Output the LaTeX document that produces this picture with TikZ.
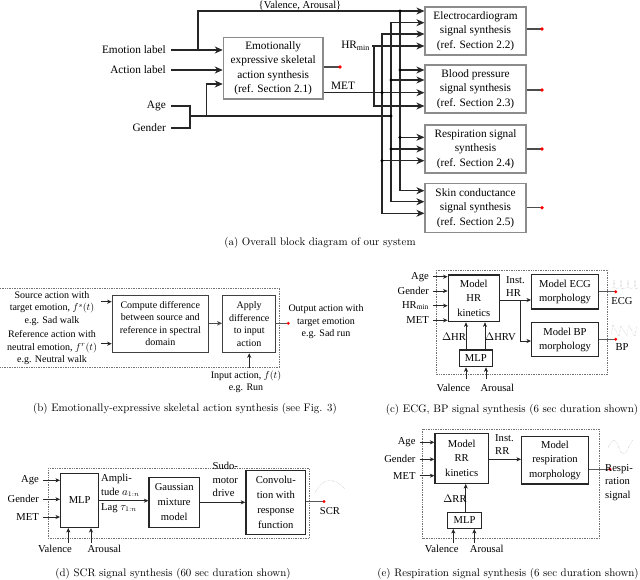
\documentclass[tikz,border=0pt]{standalone}
\usepackage{fontspec}
\newfontfamily\df{Liberation Serif}
\usetikzlibrary{arrows.meta,calc}
\begin{document}
\begin{tikzpicture}[x=1pt,y=-1pt,
  abox/.style={draw=black!45, line width=1.2pt, align=center, inner sep=1pt, font=\df\fontsize{11.3}{14.3}\selectfont},
  alab/.style={align=center, inner sep=1pt, font=\df\fontsize{11.3}{14.3}\selectfont},
  aline/.style={line width=1.1pt, black!85},
  aarr/.style={aline, -{Stealth[length=8pt,width=7pt,inset=2.5pt]}},
  bbox/.style={draw=black!75, line width=1.1pt, align=center, inner sep=1pt, font=\df\fontsize{10}{12.5}\selectfont},
  blab/.style={align=center, inner sep=1pt, font=\df\fontsize{10}{12.5}\selectfont},
  sbox/.style={draw=black!85, line width=1.3pt, align=center, inner sep=1pt, font=\df\fontsize{10.6}{14.2}\selectfont},
  slab/.style={align=center, inner sep=1pt, font=\df\fontsize{10.6}{13.5}\selectfont},
  sline/.style={line width=0.8pt, black!85},
  sarr/.style={sline, -{Stealth[length=4.5pt,width=4pt,inset=1.2pt]}},
  outl/.style={line width=1.2pt, black!65},
  dotbox/.style={densely dotted, black!55, line width=0.7pt},
  wave/.style={black!40, line width=0.35pt, densely dotted},
  captxt/.style={inner sep=0pt, font=\fontsize{10.9}{12}\selectfont},
  jdot/.style={fill=black},
  rdot/.style={fill=red}
]
\path[use as bounding box] (0,0) rectangle (640,579);

% ================= (a) =================
\node[abox, minimum width=99.7pt, minimum height=61.7pt] (emo) at (273.2,68.2) {Emotionally\\expressive skeletal\\action synthesis\\(ref. Section 2.1)};
\node[abox, minimum width=101pt, minimum height=48pt] (ecg) at (475.5,31) {Electrocardiogram\\signal synthesis\\(ref. Section 2.2)};
\node[abox, minimum width=101pt, minimum height=48pt] (bp) at (475.5,89) {Blood pressure\\signal synthesis\\(ref. Section 2.3)};
\node[abox, minimum width=101pt, minimum height=48pt] (resp) at (475.5,149) {Respiration signal\\synthesis\\(ref. Section 2.4)};
\node[abox, minimum width=101pt, minimum height=49pt] (skin) at (475.5,208) {Skin conductance\\signal synthesis\\(ref. Section 2.5)};

\node[alab, anchor=east] (emolab) at (167,50) {Emotion label};
\node[alab, anchor=east] (actlab) at (167,70) {Action label};
\node[alab, anchor=east] (agelab) at (167,106) {Age};
\node[alab, anchor=east] (genlab) at (167,128) {Gender};
\node[alab, anchor=base, font=\df\fontsize{10.6}{13}\selectfont] (valab) at (300,8.3) {\{Valence, Arousal\}};
\node[alab] (metlab) at (343,86) {MET};
\node[alab, anchor=east] (hrlab) at (371,46) {HR\textsubscript{min}};

\coordinate (jE) at (198,50);
\coordinate (jB) at (190,116);
\coordinate (jAG) at (206.7,116);
\coordinate (v1) at (400,11);
\coordinate (v2) at (400,70);
\coordinate (v3) at (400,137.3);
\coordinate (g1) at (391,116);
\coordinate (g2) at (391,80);
\coordinate (g3) at (391,149);
\coordinate (m1) at (382,92.7);
\coordinate (m2) at (382,160.7);
\coordinate (h1) at (374,46.7);

\draw[aarr] ([xshift=4pt]emolab.east) -- (emo.west |- emolab.east);
\draw[aarr] (jE) |- (ecg.west |- v1);
\draw[aarr] ([xshift=4pt]actlab.east) -- (emo.west |- actlab.east);
\draw[aline] ([xshift=4pt]agelab.east) -| (jB) |- ([xshift=4pt]genlab.east);
\draw[aline] (jB) -- (g1);
\draw[aarr] (jAG) |- (emo.west |- 0,84);
% age/gender bus
\draw[aarr] (g1) |- (ecg.west |- 0,22.7);
\draw[aarr] (g1) |- (skin.west |- 0,201.7);
\draw[aarr] (g2) -- (bp.west |- g2);
\draw[aarr] (g3) -- (resp.west |- g3);
% valence/arousal bus
\draw[aarr] (v1) |- (skin.west |- 0,190.7);
\draw[aarr] (v2) -- (bp.west |- v2);
\draw[aarr] (v3) -- (resp.west |- v3);
% MET bus
\draw[aarr] (emo.east |- m1) -- (bp.west |- m1);
\draw[aarr] (m1) |- (ecg.west |- 0,34);
\draw[aarr] (m1) |- (skin.west |- 0,213.3);
\draw[aarr] (m2) -- (resp.west |- m2);
% HRmin
\draw[aarr] ([xshift=1pt]hrlab.east) -- (ecg.west |- hrlab.east);
\draw[aarr] (h1) |- (bp.west |- 0,106);
% dots
\foreach \p in {v1,v2,v3,g1,g2,g3,m1,m2} \fill[jdot] (\p) circle (1.7pt);
% outputs
\coordinate (oemo) at (340,67);
\coordinate (oecg) at (542,29);
\coordinate (obp) at (542,90);
\coordinate (oresp) at (542,149);
\coordinate (oskin) at (542,207.7);
\draw[aline, black!70] (emo.east |- oemo) -- (oemo);
\draw[aline, black!70] (ecg.east |- oecg) -- (oecg);
\draw[aline, black!70] (bp.east |- obp) -- (obp);
\draw[aline, black!70] (resp.east |- oresp) -- (oresp);
\draw[aline, black!70] (skin.east |- oskin) -- (oskin);
\foreach \p in {oemo,oecg,obp,oresp,oskin} \fill[rdot] (\p) circle (1.9pt);

\node[captxt] (capa) at (320,243) {(a) Overall block diagram of our system};

% ================= (b) =================
\draw[dotbox] (0,288) -- (279.3,288) -- (279.3,367.7) -- (0,367.7);
\node[bbox, minimum width=96pt, minimum height=57.3pt] (cmp) at (160.3,323.7) {Compute difference\\between source and\\reference in spectral\\domain};
\node[bbox, minimum width=53pt, minimum height=57pt] (apl) at (249.2,324.2) {Apply\\difference\\to input\\action};
\node[blab] (src) at (52,308.3) {Source action with\\target emotion, $f^{s}(t)$\\e.g. Sad walk};
\node[blab] (refl) at (52,348) {Reference action with\\neutral emotion, $f^{r}(t)$\\e.g. Neutral walk};
\node[blab] (outlab) at (326,322) {Output action with\\target emotion\\e.g. Sad run};
\node[blab] (inlab) at (246,381.7) {Input action, $f(t)$\\e.g. Run};
\coordinate (srcA) at (101,301.7);
\coordinate (refA) at (101,343.7);
\coordinate (inA) at (249.2,368);
\coordinate (oapl) at (288.3,323.3);
\draw[sarr] (srcA) -- (cmp.west |- srcA);
\draw[sarr] (refA) -- (cmp.west |- refA);
\draw[sline, line width=1.6pt, black!70, -{Stealth[length=5pt,width=4.5pt,inset=1.2pt]}] (cmp.east |- oapl) -- (apl.west |- oapl);
\draw[sarr] (inA) -- (apl.south);
\draw[outl] (apl.east |- oapl) -- (oapl);
\fill[rdot] (oapl) circle (1.6pt);
\node[captxt] (capb) at (185,409) {(b) Emotionally-expressive skeletal action synthesis (see Fig. 3)};

% ================= (c) =================
\draw[dotbox] (436,270) rectangle (607.7,374);
\node[sbox, minimum width=51pt, minimum height=46.7pt] (hrk) at (473.8,298.3) {Model\\HR\\kinetics};
\node[sbox, minimum width=66.6pt, minimum height=34.7pt] (ecgm) at (565,291.7) {Model ECG\\morphology};
\node[sbox, minimum width=66.6pt, minimum height=34pt] (bpm) at (565,339.7) {Model BP\\morphology};
\node[sbox, minimum width=33pt, minimum height=16.7pt] (mlpc) at (475.8,358.3) {MLP};
\node[slab, anchor=east] (cage) at (430,276.7) {Age};
\node[slab, anchor=east] (cgen) at (430,291) {Gender};
\node[slab, anchor=east] (chr) at (430,305.7) {HR\textsubscript{min}};
\node[slab, anchor=east] (cmet) at (430,320.3) {MET};
\foreach \n in {cage,cgen,chr,cmet} \draw[sarr] ([xshift=3pt]\n.east) -- (hrk.west |- \n.east);
\node[slab] (cdhr) at (454,336.7) {$\Delta$HR};
\node[slab] (cdhrv) at (500.5,336.7) {$\Delta$HRV};
\coordinate (cx1) at (466,0);
\coordinate (cx2) at (485,0);
\draw[sarr] (mlpc.north -| cx1) -- (hrk.south -| cx1);
\draw[sarr] (mlpc.north -| cx2) -- (hrk.south -| cx2);
\node[slab] (cval) at (453.3,388) {Valence};
\node[slab] (caro) at (497.3,388) {Arousal};
\draw[sarr] (466,379) -- (mlpc.south -| cx1);
\draw[sarr] (486,379) -- (mlpc.south -| 486,0);
\node[slab, align=left, anchor=north west] (cinst) at (505,275) {Inst.\\HR};
\coordinate (chrj) at (520,300);
\draw[sarr] (hrk.east |- chrj) -- (ecgm.west |- chrj);
\draw[sarr] (chrj) |- (bpm.west |- 0,341);
\coordinate (oecgc) at (615.7,291.7);
\coordinate (obpc) at (615.7,339.3);
\draw[outl] (ecgm.east |- oecgc) -- (oecgc);
\draw[outl] (bpm.east |- obpc) -- (obpc);
\fill[rdot] (oecgc) circle (1.6pt);
\fill[rdot] (obpc) circle (1.6pt);
\node[slab] (cecg) at (622,301) {ECG};
\node[slab] (cbp) at (622,347.5) {BP};
\draw[wave] (611,288) -- (613,288) -- (614,280) -- (615,289) -- (618,288) -- (620,288) -- (621,280) -- (622,289) -- (625,288) -- (627,288) -- (628,280) -- (629,289) -- (632,288) -- (634,288) -- (635,280) -- (636,289) -- (638,288);
\draw[wave] (611,335) -- (613,325) -- (617,333) -- (619,336) -- (621,326) -- (625,333) -- (627,336) -- (629,325) -- (633,333) -- (635,336) -- (637,326);

\node[captxt] (capc) at (512,410) {(c) ECG, BP signal synthesis (6 sec duration shown)};

% ================= (d) =================
\draw[dotbox] (48.3,468.3) rectangle (309.3,538.3);
\node[sbox, minimum width=38pt, minimum height=54pt] (mlpd) at (79.7,500.3) {MLP};
\node[sbox, minimum width=50.3pt, minimum height=50pt, font=\df\fontsize{10.6}{15}\selectfont] (gmm) at (174.2,502.3) {Gaussian\\mixture\\model};
\node[sbox, minimum width=59.7pt, minimum height=63.6pt, font=\df\fontsize{10.6}{15}\selectfont] (conv) at (275.8,502.5) {Convolu-\\tion with\\response\\function};
\node[slab, anchor=east] (dage) at (40,480.3) {Age};
\node[slab, anchor=east] (dgen) at (40,499.3) {Gender};
\node[slab, anchor=east] (dmet) at (40,517) {MET};
\foreach \n in {dage,dgen,dmet} \draw[sarr] ([xshift=3pt]\n.east) -- (mlpd.west |- \n.east);
\node[slab] (dval) at (55,549) {Valence};
\node[slab] (daro) at (104.3,549) {Arousal};
\coordinate (dx1) at (68.3,543);
\coordinate (dx2) at (91,543);
\draw[sarr] (dx1) -- (mlpd.south -| dx1);
\draw[sarr] (dx2) -- (mlpd.south -| dx2);
\node[slab, align=left, anchor=north west] (damp) at (100,473) {Ampli-\\tude $a_{1:n}$};
\node[slab, anchor=north west] (dlag) at (100,502) {Lag $\tau_{1:n}$};
\coordinate (dy1) at (0,500.7);
\draw[sarr] (mlpd.east |- dy1) -- (gmm.west |- dy1);
\draw[sarr] (gmm.east) -- (conv.west |- gmm.east);
\node[slab, align=left, anchor=north west] (dsudo) at (211.5,461) {Sudo-\\motor\\drive};
\coordinate (oscr) at (324,501.5);
\draw[outl] (conv.east |- oscr) -- (oscr);
\fill[rdot] (oscr) circle (1.6pt);
\node[slab] (dscr) at (330,511) {SCR};
\draw[wave] (315,493) .. controls (322,478) and (333,476) .. (345,489);

\node[captxt] (capd) at (173,574) {(d) SCR signal synthesis (60 sec duration shown)};

% ================= (e) =================
\draw[dotbox] (422.7,429) rectangle (599.3,538.3);
\node[sbox, minimum width=53.3pt, minimum height=50pt] (rrk) at (461.7,458.3) {Model\\RR\\kinetics};
\node[sbox, minimum width=66.6pt, minimum height=47.3pt] (rmor) at (555,460.3) {Model\\respiration\\morphology};
\node[sbox, minimum width=34.4pt, minimum height=15.6pt] (mlpe) at (464.5,520.5) {MLP};
\node[slab, anchor=east] (eage) at (416.7,442.3) {Age};
\node[slab, anchor=east] (egen) at (416.7,459.3) {Gender};
\node[slab, anchor=east] (emet) at (416.7,475.7) {MET};
\foreach \n in {eage,egen,emet} \draw[sarr] ([xshift=3pt]\n.east) -- (rrk.west |- \n.east);
\coordinate (ey1) at (0,459.3);
\draw[sarr] (rrk.east |- ey1) -- (rmor.west |- ey1);
\node[slab, align=left, anchor=north west] (einst) at (494,433) {Inst.\\RR};
\coordinate (ex0) at (465.7,0);
\draw[sarr] (mlpe.north -| ex0) -- (rrk.south -| ex0);
\node[slab] (edrr) at (455,499) {$\Delta$RR};
\coordinate (ex1) at (453.3,543);
\coordinate (ex2) at (474.3,543);
\draw[sarr] (ex1) -- (mlpe.south -| ex1);
\draw[sarr] (ex2) -- (mlpe.south -| ex2);
\node[slab] (eval) at (441.7,549) {Valence};
\node[slab] (earo) at (486.7,549) {Arousal};
\coordinate (oresp2) at (610,469.3);
\draw[outl] (rmor.east |- oresp2) -- (oresp2);
\fill[rdot] (oresp2) circle (1.6pt);
\node[slab, align=left, anchor=north west] (esig) at (604,463) {Respi-\\ration\\signal};
\draw[wave] (608,448) .. controls (612,438) and (616,438) .. (619,448) .. controls (622,456) and (626,456) .. (629,446) -- (633,440);

\node[captxt] (cape) at (508,574) {(e) Respiration signal synthesis (6 sec duration shown)};
\end{tikzpicture}
\end{document}
